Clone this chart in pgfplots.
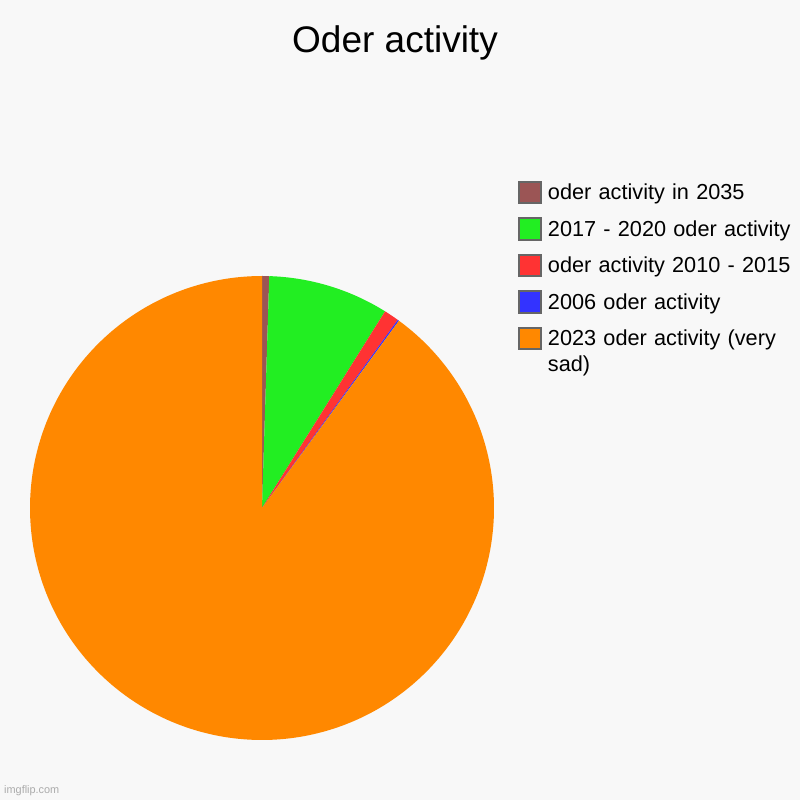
\documentclass[border=0pt]{standalone}
\usepackage{fontspec}
\setmainfont{Liberation Sans}
\usepackage{pgfplots}
\pgfplotsset{compat=1.18}

\definecolor{bg}{HTML}{F8F8F8}
\definecolor{cbrown}{HTML}{9B5555}
\definecolor{cgreen}{HTML}{22EE22}
\definecolor{cred}{HTML}{FF3333}
\definecolor{cblue}{HTML}{3333FF}
\definecolor{corange}{HTML}{FF8800}
\definecolor{boxgray}{HTML}{666666}

% shares in percent, clockwise from 12 o'clock
\def\pA{0.5}    % oder activity in 2035
\def\pB{8.4}    % 2017 - 2020
\def\pC{1.05}   % 2010 - 2015
\def\pD{0.1}    % 2006
\def\pE{89.95}  % 2023

% cumulative angles (degrees)
\pgfmathsetmacro\aA{3.6*\pA}
\pgfmathsetmacro\aB{\aA+3.6*\pB}
\pgfmathsetmacro\aC{\aB+3.6*\pC}
\pgfmathsetmacro\aD{\aC+3.6*\pD}
\pgfmathsetmacro\aE{\aD+3.6*\pE}

\begin{document}
\begin{tikzpicture}
  \fill[bg] (0,0) rectangle (800pt,800pt);
  \begin{axis}[
      at={(30pt,60pt)}, anchor=south west,
      scale only axis, width=464pt, height=464pt,
      xmin=-1, xmax=1, ymin=-1, ymax=1,
      hide axis,
      title={Oder activity},
      title style={at={(0.7866,1.4677)}, anchor=base, inner sep=0pt,
        font=\fontsize{37}{44}\selectfont},
      legend image code/.code={
        \draw[#1, draw=boxgray, line width=2pt] (1pt,-3.5pt) rectangle (23pt,18pt);
      },
      legend style={
        at={(1.0517,1.2054)}, anchor=north west,
        draw=none, fill=none, inner sep=0pt, outer sep=0pt,
        row sep=13pt, column sep=6pt,
        cells={anchor=base west},
        nodes={inner sep=0pt, text width=250pt, align=left,
          font=\fontsize{21.7}{26}\selectfont},
      },
    ]
    \addplot[fill=cbrown, draw=none, domain=0:\aA, samples=5]
      ({sin(x)}, {cos(x)}) -- (0,0) -- cycle;
    \addlegendentry{oder activity in 2035}
    \addplot[fill=cgreen, draw=none, domain=\aA:\aB, samples=40]
      ({sin(x)}, {cos(x)}) -- (0,0) -- cycle;
    \addlegendentry{2017 - 2020 oder activity}
    \addplot[fill=cred, draw=none, domain=\aB:\aC, samples=5]
      ({sin(x)}, {cos(x)}) -- (0,0) -- cycle;
    \addlegendentry{oder activity 2010 - 2015}
    \addplot[fill=cblue, draw=none, domain=\aC:\aD, samples=3]
      ({sin(x)}, {cos(x)}) -- (0,0) -- cycle;
    \addlegendentry{2006 oder activity}
    \addplot[fill=corange, draw=none, domain=\aD:\aE, samples=300]
      ({sin(x)}, {cos(x)}) -- (0,0) -- cycle;
    \addlegendentry{2023 oder activity (very sad)}
  \end{axis}
  \node[anchor=base west, inner sep=0pt, text=black!33,
    font=\fontsize{10.9}{12}\selectfont] at (4pt,6pt) {imgflip.com};
\end{tikzpicture}
\end{document}
